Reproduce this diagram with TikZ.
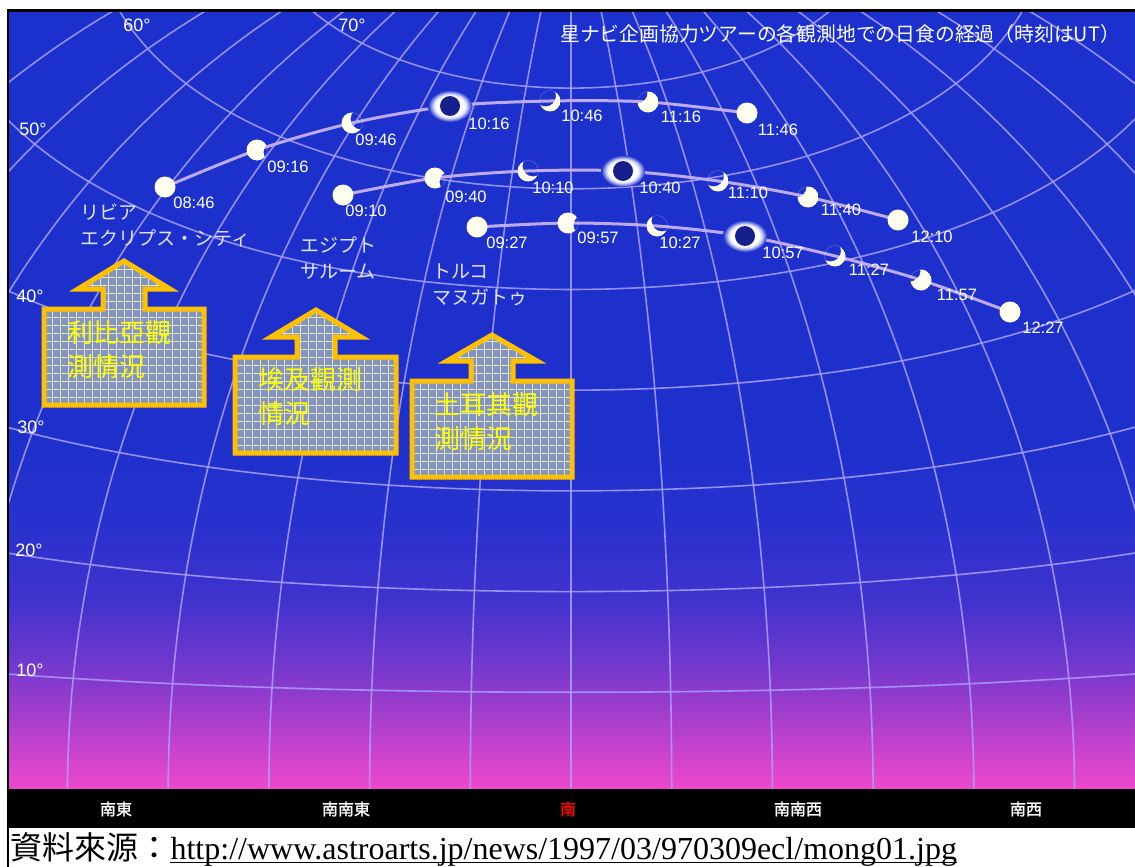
\documentclass[tikz,border=0pt]{standalone}
\usepackage{fontspec}
\setmainfont{Liberation Serif}
\newfontfamily\lsans{Liberation Sans}
\newfontfamily\jpfont{Noto Sans CJK JP}
\newfontfamily\jpbold[FakeBold=1.5]{Noto Sans CJK JP}
\newfontfamily\tcfont{Noto Sans CJK TC}
\usetikzlibrary{calc}

% sky and drawing colours
\definecolor{skytop}{RGB}{27,48,204}
\definecolor{skya}{RGB}{30,48,204}
\definecolor{skyb}{RGB}{42,49,205}
\definecolor{skyc}{RGB}{65,50,205}
\definecolor{skyd}{RGB}{110,56,205}
\definecolor{skye}{RGB}{150,60,205}
\definecolor{skyf}{RGB}{205,67,205}
\definecolor{skyhz}{RGB}{238,72,205}
\definecolor{gridcol}{RGB}{170,160,255}
\definecolor{trackcol}{RGB}{190,170,242}
\definecolor{suncol}{RGB}{255,253,238}
\definecolor{ringcore}{RGB}{22,32,140}
\definecolor{placecol}{RGB}{225,228,255}
\definecolor{calloutcol}{RGB}{255,192,0}
\definecolor{calloutfill}{RGB}{132,148,194}
\definecolor{cgridcol}{RGB}{228,230,190}
\definecolor{calltext}{RGB}{255,255,0}

% sky gradient: horizon (bottom) at 25bp, top of chart at 75bp
\pgfdeclareverticalshading{skyshade}{100bp}{%
  color(0bp)=(skyhz); color(25bp)=(skyhz); color(27.2bp)=(skyf);
  color(30.7bp)=(skye); color(33.3bp)=(skyd); color(37.1bp)=(skyc);
  color(41.6bp)=(skyb); color(46.8bp)=(skya); color(75bp)=(skytop);
  color(100bp)=(skytop)}
% glow around the eclipsed sun
\pgfdeclareradialshading{corona}{\pgfpoint{0bp}{0bp}}{%
  color(0bp)=(white); color(16bp)=(white); color(19bp)=(white!80!skytop);
  color(25bp)=(skytop); color(50bp)=(skytop)}

\newcommand{\timefont}{\lsans\fontsize{16.5}{16.5}\selectfont}
\newcommand{\degfont}{\lsans\fontsize{18}{18}\selectfont}
\newcommand{\placefont}{\jpfont\fontsize{19}{26}\selectfont}
\newcommand{\chartitlefont}{\jpfont\fontsize{19.8}{19.8}\selectfont}
\newcommand{\callfont}{\tcfont\fontsize{26}{34}\selectfont}
\newcommand{\dirfont}{\jpbold\fontsize{16}{16}\selectfont}

% sun phases
\newcommand{\sunfull}[1]{\fill[suncol] (#1) circle[radius=10.5];}
\newcommand{\sunbite}[3]{%
  \begin{scope}
    \clip (#1) circle[radius=10.5];
    \fill[suncol,even odd rule] (#1) circle[radius=10.5] ($(#1)+(#2,#3)$) circle[radius=10.5];
  \end{scope}}
\newcommand{\eclipsering}[1]{%
  \shade[shading=corona] (#1) ellipse[x radius=22,y radius=16];
  \fill[ringcore] (#1) circle[radius=10];}

\tikzset{
  gridline/.style={draw=gridcol, line width=1.6pt, opacity=0.85},
  track/.style={draw=trackcol, line width=3pt, line cap=round},
  timelbl/.style={text=white, font=\timefont, inner sep=0pt},
  placelbl/.style={text=placecol, font=\placefont, align=left, inner sep=0pt, anchor=west},
  deglbl/.style={text=white, font=\degfont, inner sep=0pt},
  callout/.style={draw=calloutcol, line width=5pt, line join=miter},
  cgrid/.style={draw=cgridcol, line width=0.9pt},
  calloutlbl/.style={text=calltext, font=\callfont, align=left, inner sep=0pt, anchor=west},
  dirlbl/.style={text=white, font=\dirfont, inner sep=0pt},
}

\begin{document}
\begin{tikzpicture}[x=1pt,y=-1pt,
  declare function={
    skyrho(\h,\a)=acos(cos(\h)*cos(\a));
    skyx(\h,\a)=571+10.07*skyrho(\h,\a)*cos(\h)*sin(\a)/sin(skyrho(\h,\a));
    skyy(\h,\a)=793-10.07*skyrho(\h,\a)*sin(\h)/sin(skyrho(\h,\a));
  }]
\useasboundingbox (0,0) rectangle (1135,867);
\fill[white] (0,0) rectangle (1135,867);

% sky
\shade[shading=skyshade] (8,10) rectangle (1135,789);

% altitude / azimuth grid (azimuthal equidistant, centred on the south point)
\begin{scope}
  \clip (8,10) rectangle (1135,789);
  \foreach \hh in {10,20,30,40,50,60,70}
    \draw[gridline] plot[variable=\t,domain=-130:130,samples=105,smooth]
      ({skyx(\hh,\t)},{skyy(\hh,\t)});
  \foreach \aa in {-90,-80,-70,-60,-50,-40,-30,-20,-10,10,20,30,40,50,60,70,80,90}
    \draw[gridline] plot[variable=\t,domain=-1.5:88.5,samples=46,smooth]
      ({skyx(\t,\aa)},{skyy(\t,\aa)});
  \draw[gridline] (571,793) -- (571,0);
\end{scope}

% altitude labels
\node[deglbl] (d60) at (137,25) {60°};
\node[deglbl] (d70) at (352,25) {70°};
\node[deglbl] (d50) at (33,129) {50°};
\node[deglbl] (d40) at (30,296) {40°};
\node[deglbl] (d30) at (31,427) {30°};
\node[deglbl] (d20) at (29,550) {20°};
\node[deglbl] (d10) at (30,670) {10°};

% title
\node[text=white, font=\chartitlefont, inner sep=0pt, anchor=east] (title) at (1120,34)
  {星ナビ企画協力ツアーの各観測地での日食の経過（時刻はUT）};

% sun positions along the three tracks
\coordinate (a1) at (165,187); \coordinate (a2) at (257,150); \coordinate (a3) at (352,123);
\coordinate (a4) at (450,106); \coordinate (a5) at (550,101); \coordinate (a6) at (648,102);
\coordinate (a7) at (747,113);
\coordinate (b1) at (343,195); \coordinate (b2) at (435,178); \coordinate (b3) at (528,171);
\coordinate (b4) at (623,171); \coordinate (b5) at (718,181); \coordinate (b6) at (808,197);
\coordinate (b7) at (898,220);
\coordinate (c1) at (477,227); \coordinate (c2) at (568,223); \coordinate (c3) at (657,226);
\coordinate (c4) at (745,236); \coordinate (c5) at (835,256); \coordinate (c6) at (921,280);
\coordinate (c7) at (1010,312);

\draw[track] plot[smooth] coordinates {(a1) (a2) (a3) (a4) (a5) (a6) (a7)};
\draw[track] plot[smooth] coordinates {(b1) (b2) (b3) (b4) (b5) (b6) (b7)};
\draw[track] plot[smooth] coordinates {(c1) (c2) (c3) (c4) (c5) (c6) (c7)};

\sunfull{a1} \sunbite{a2}{17}{2} \sunbite{a3}{9}{-4} \eclipsering{a4}
\sunbite{a5}{-4.5}{-5} \sunbite{a6}{-11}{-9} \sunfull{a7}
\sunfull{b1} \sunbite{b2}{15}{4} \sunbite{b3}{5}{-5} \eclipsering{b4}
\sunbite{b5}{-4.5}{-5} \sunbite{b6}{-12}{-10} \sunfull{b7}
\sunfull{c1} \sunbite{c2}{16}{2} \sunbite{c3}{5}{-5} \eclipsering{c4}
\sunbite{c5}{-4.5}{-5} \sunbite{c6}{-11}{-9} \sunfull{c7}

% times (UT)
\node[timelbl] (ta1) at (194,203) {08:46};
\node[timelbl] (ta2) at (288,167) {09:16};
\node[timelbl] (ta3) at (376,140) {09:46};
\node[timelbl] (ta4) at (489,124) {10:16};
\node[timelbl] (ta5) at (582,116) {10:46};
\node[timelbl] (ta6) at (681,117) {11:16};
\node[timelbl] (ta7) at (778,130) {11:46};
\node[timelbl] (tb1) at (366,211) {09:10};
\node[timelbl] (tb2) at (466,197) {09:40};
\node[timelbl] (tb3) at (553,188) {10:10};
\node[timelbl] (tb4) at (660,188) {10:40};
\node[timelbl] (tb5) at (748,193) {11:10};
\node[timelbl] (tb6) at (841,210) {11:40};
\node[timelbl] (tb7) at (932,237) {12:10};
\node[timelbl] (tc1) at (507,243) {09:27};
\node[timelbl] (tc2) at (598,238) {09:57};
\node[timelbl] (tc3) at (680,243) {10:27};
\node[timelbl] (tc4) at (783,253) {10:57};
\node[timelbl] (tc5) at (869,270) {11:27};
\node[timelbl] (tc6) at (957,295) {11:57};
\node[timelbl] (tc7) at (1043,328) {12:27};

% observing sites
\node[placelbl] (libya) at (80,225) {リビア\\エクリプス・シティ};
\node[placelbl] (egypt) at (300,258) {エジプト\\サルーム};
\node[placelbl] (turkey) at (432,285) {トルコ\\マヌガトゥ};

% up-arrow callouts
\path[save path=\boxA] (44,405) -- (44,309) -- (103,309) -- (103,289) -- (78,289) -- (124,261)
  -- (170,289) -- (145,289) -- (145,309) -- (204,309) -- (204,405) -- cycle;
\path[save path=\boxB] (235,453) -- (235,357) -- (297,357) -- (297,337) -- (271,337) -- (316,310)
  -- (361,337) -- (335,337) -- (335,357) -- (396,357) -- (396,453) -- cycle;
\path[save path=\boxC] (412,477) -- (412,381) -- (471,381) -- (471,361) -- (447,361) -- (492,335)
  -- (537,361) -- (513,361) -- (513,381) -- (572,381) -- (572,477) -- cycle;
\foreach \bx in {\boxA,\boxB,\boxC}{
  \fill[calloutfill, use path=\bx];
  \begin{scope}
    \clip[use path=\bx];
    \foreach \gx in {36,44,...,580} \draw[cgrid] (\gx,250) -- (\gx,485);
    \foreach \gy in {253,261,...,485} \draw[cgrid] (36,\gy) -- (580,\gy);
  \end{scope}
  \draw[callout, use path=\bx];
}
\node[calloutlbl] (libtxt) at (67,350) {利比亞觀\\測情況};
\node[calloutlbl] (egytxt) at (258,397) {埃及觀測\\情況};
\node[calloutlbl] (turtxt) at (434,422) {土耳其觀\\測情況};

% compass bar
\fill[black] (8,789) rectangle (1135,828);
\node[dirlbl] (se) at (116,809) {南東};
\node[dirlbl] (sse) at (346,809) {南南東};
\node[dirlbl, text=red] (s) at (568,809) {南};
\node[dirlbl] (ssw) at (798,809) {南南西};
\node[dirlbl] (sw) at (1026,809) {南西};

% frame
\draw[black, line width=2.2pt] (8,867) -- (8,10.5) -- (1135,10.5);

% source
\node[anchor=base west, inner sep=0pt, font=\tcfont\fontsize{32}{32}\selectfont] (srclbl) at (10,859)
  {資料來源：};
\node[anchor=base west, inner sep=0pt, font=\fontsize{32}{32}\selectfont] (srcurl) at (srclbl.base east)
  {http://www.astroarts.jp/news/1997/03/970309ecl/mong01.jpg};
\draw[black, line width=1.6pt] ($(srcurl.base west)+(0,3.5)$) -- ($(srcurl.base east)+(0,3.5)$);
\end{tikzpicture}
\end{document}
